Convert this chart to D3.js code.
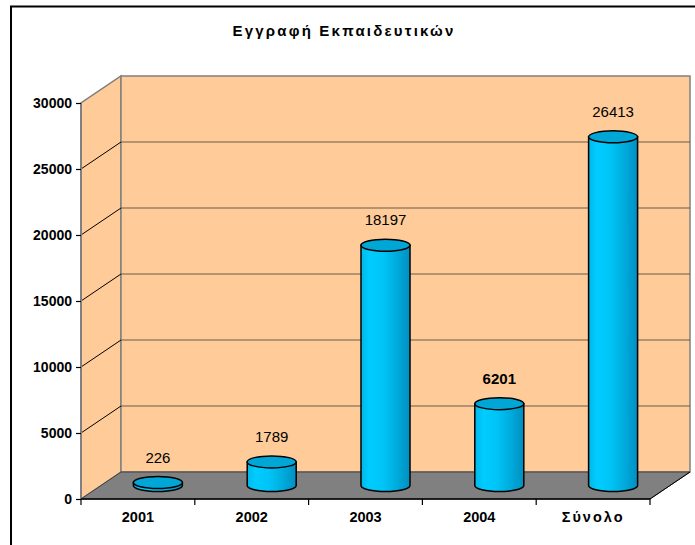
<!DOCTYPE html>
<html>
<head>
<meta charset="utf-8">
<script src="https://cdn.jsdelivr.net/npm/d3@7"></script>
<style>
  body { margin: 0; background: #fff; }
  svg { display: block; font-family: "Liberation Sans", Arial, sans-serif; }
</style>
</head>
<body>
<svg id="chart" width="695" height="545"></svg>
<script>
const title = "Εγγραφή Εκπαιδευτικών";
const categories = ["2001", "2002", "2003", "2004", "Σύνολο"];
const values = [226, 1789, 18197, 6201, 26413];
const boldLabels = [false, false, false, true, false];
const yTicks = [0, 5000, 10000, 15000, 20000, 25000, 30000];

const plotLeft = 81, plotRight = 650, plotBottom = 499, plotTop = 103;
const depthX = 40, depthY = -27;   // 3d depth offset of back wall
const barW = 49, ry = 6;

const svg = d3.select("#chart");

const y = d3.scaleLinear().domain([0, 30000]).range([plotBottom, plotTop]);
const x = d3.scaleBand().domain(categories).range([plotLeft, plotRight]).padding(0);

// outer border (cut off at right / bottom)
svg.append("rect")
  .attr("x", 11).attr("y", 6.5)
  .attr("width", 720).attr("height", 600)
  .attr("fill", "#fff").attr("stroke", "#000").attr("stroke-width", 2);

svg.append("text")
  .attr("x", 344).attr("y", 36)
  .attr("text-anchor", "middle")
  .attr("font-size", 15).attr("font-weight", "bold")
  .attr("letter-spacing", 2.2)
  .text(title);

const wall = "#FFCC99";

// left side wall
svg.append("path")
  .attr("d", `M${plotLeft},${y(0)} L${plotLeft},${y(30000)} L${plotLeft + depthX},${y(30000) + depthY} L${plotLeft + depthX},${y(0) + depthY} Z`)
  .attr("fill", wall).attr("stroke", "#808080").attr("stroke-width", 1.5);

// back wall
svg.append("rect")
  .attr("x", plotLeft + depthX).attr("y", y(30000) + depthY)
  .attr("width", plotRight - plotLeft).attr("height", y(0) - y(30000))
  .attr("fill", wall).attr("stroke", "#808080").attr("stroke-width", 1.5);

// gridlines
const grid = yTicks.filter(d => d > 0 && d < 30000);
svg.append("g").selectAll("line").data(grid).join("line")
  .attr("x1", plotLeft + depthX).attr("x2", plotRight + depthX)
  .attr("y1", d => y(d) + depthY).attr("y2", d => y(d) + depthY)
  .attr("stroke", "#6b5a4a").attr("stroke-width", 1.2);
svg.append("g").selectAll("line").data(grid).join("line")
  .attr("x1", plotLeft).attr("x2", plotLeft + depthX)
  .attr("y1", d => y(d)).attr("y2", d => y(d) + depthY)
  .attr("stroke", "#000").attr("stroke-width", 1);

// floor
svg.append("path")
  .attr("d", `M${plotLeft},${y(0)} L${plotRight},${y(0)} L${plotRight + depthX},${y(0) + depthY} L${plotLeft + depthX},${y(0) + depthY} Z`)
  .attr("fill", "#808080").attr("stroke", "#404040").attr("stroke-width", 1);

// left wall front edge
svg.append("line")
  .attr("x1", plotLeft).attr("x2", plotLeft).attr("y1", y(30000)).attr("y2", y(0))
  .attr("stroke", "#808080").attr("stroke-width", 2);

// bar gradient
const defs = svg.append("defs");
const grad = defs.append("linearGradient").attr("id", "cyl").attr("x1", "0").attr("x2", "1");
[["0%", "#00b8e8"], ["18%", "#00ccff"], ["45%", "#00c4f6"], ["70%", "#00aee0"], ["100%", "#008fc0"]]
  .forEach(([o, c]) => grad.append("stop").attr("offset", o).attr("stop-color", c));

const bars = categories.map((c, i) => ({ c, v: values[i], bold: boldLabels[i] }));
const cx = d => x(d.c) + x.bandwidth() / 2 + depthX / 2;
const baseY = d => y(0) + depthY / 2;
const topY = d => y(d.v) + depthY / 2;

const g = svg.append("g");
g.selectAll("path").data(bars).join("path")
  .attr("d", d => {
    const l = cx(d) - barW / 2, r = cx(d) + barW / 2;
    return `M${l},${topY(d)} L${l},${baseY(d)} A${barW / 2},${ry} 0 0 0 ${r},${baseY(d)} L${r},${topY(d)} Z`;
  })
  .attr("fill", "url(#cyl)").attr("stroke", "#000").attr("stroke-width", 1.5);

g.selectAll("ellipse").data(bars).join("ellipse")
  .attr("cx", cx).attr("cy", topY)
  .attr("rx", barW / 2).attr("ry", ry)
  .attr("fill", "#00a6d6").attr("stroke", "#000").attr("stroke-width", 1.5);

g.selectAll("text").data(bars).join("text")
  .attr("x", cx).attr("y", d => topY(d) - 20)
  .attr("text-anchor", "middle")
  .attr("font-size", 15)
  .attr("font-weight", d => d.bold ? "bold" : "normal")
  .text(d => d.v);

// y axis
const yAxis = svg.append("g")
  .attr("transform", `translate(${plotLeft},0)`)
  .call(d3.axisLeft(y).tickValues(yTicks).tickSize(5).tickPadding(4).tickFormat(d3.format("d")));
yAxis.select(".domain").remove();
yAxis.selectAll("line").attr("stroke", "#000").attr("stroke-width", 1.2);
yAxis.selectAll("text").attr("font-size", 14).attr("font-weight", "bold")
  .attr("font-family", "Liberation Sans, Arial, sans-serif").attr("fill", "#000");

// x axis
svg.append("line")
  .attr("x1", plotLeft).attr("x2", plotRight).attr("y1", plotBottom).attr("y2", plotBottom)
  .attr("stroke", "#000").attr("stroke-width", 1.5);
svg.append("line")
  .attr("x1", plotRight).attr("x2", plotRight + depthX).attr("y1", plotBottom).attr("y2", plotBottom + depthY)
  .attr("stroke", "#000").attr("stroke-width", 1);
const edges = categories.map(c => x(c)).concat([plotRight]);
svg.append("g").selectAll("line").data(edges).join("line")
  .attr("x1", d => d).attr("x2", d => d).attr("y1", plotBottom).attr("y2", plotBottom + 6)
  .attr("stroke", "#000").attr("stroke-width", 1.2);

const xAxis = svg.append("g")
  .attr("transform", `translate(0,${plotBottom})`)
  .call(d3.axisBottom(x).tickSize(0).tickPadding(13));
xAxis.select(".domain").remove();
xAxis.selectAll("text").attr("font-size", 14.5).attr("font-weight", "bold")
  .attr("font-family", "Liberation Sans, Arial, sans-serif").attr("fill", "#000")
  .attr("letter-spacing", d => d === "Σύνολο" ? 2 : 0);
</script>
</body>
</html>
